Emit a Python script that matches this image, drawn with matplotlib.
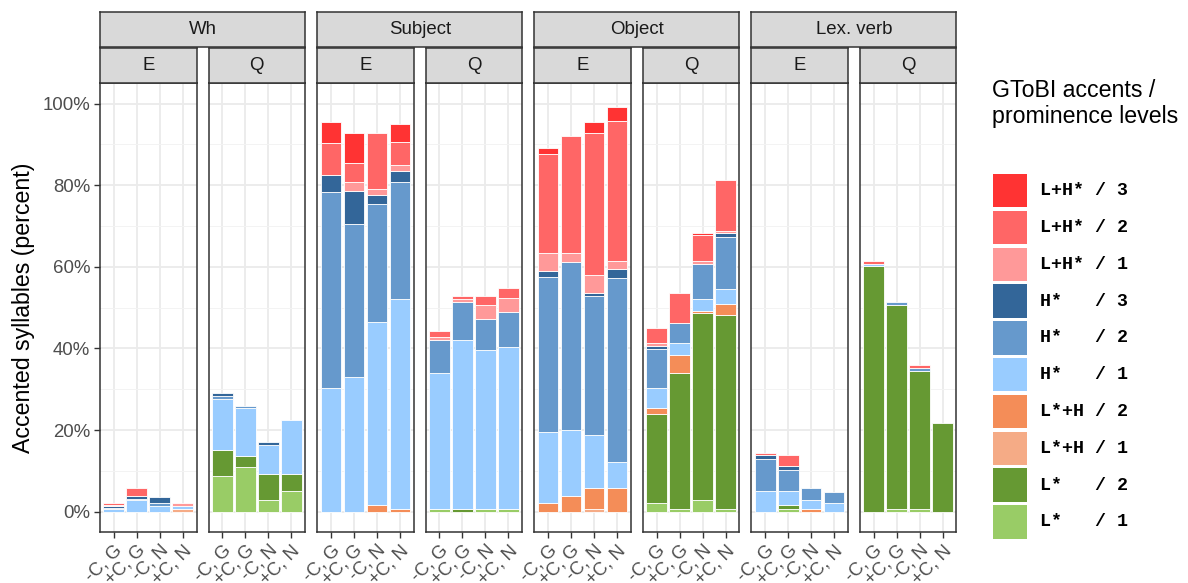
import numpy as np
import matplotlib
matplotlib.use("Agg")
import matplotlib.pyplot as plt
from matplotlib.patches import Rectangle

plt.rcParams['font.family'] = ['Liberation Sans', 'DejaVu Sans']

# facets
groups = ['Wh', 'Subject', 'Object', 'Lex. verb']
sentence_types = ['E', 'Q']
conditions = ['-C, G', '+C, G', '-C, N', '+C, N']

# accent categories, bottom of stack first
cat_labels = ['L*   / 1', 'L*   / 2', 'L*+H / 1', 'L*+H / 2', 'H*   / 1',
              'H*   / 2', 'H*   / 3', 'L+H* / 1', 'L+H* / 2', 'L+H* / 3']
cat_colors = ['#99CC66', '#669933', '#F5AB86', '#F48D58', '#99CCFF',
              '#6699CC', '#336699', '#FF9999', '#FF6666', '#FF3333']

# percentages per panel (Wh E, Wh Q, Subj E, Subj Q, Obj E, Obj Q, Lex E, Lex Q)
l_star_1 = [[0, 0, 0, 0], [8.7, 10.9, 2.8, 5.1], [0, 0, 0, 0], [0.7, 0, 0.7, 0.7],
            [0, 0, 0, 0], [2.2, 0.7, 2.8, 0.7], [0, 0.7, 0, 0], [0, 0.7, 0.7, 0]]
l_star_2 = [[0, 0, 0, 0], [6.5, 2.7, 6.4, 4.2], [0, 0, 0, 0], [0, 0.7, 0, 0],
            [0, 0, 0, 0], [21.7, 33.4, 45.8, 47.4], [0, 0.8, 0, 0], [60.1, 50.0, 33.7, 21.6]]
l_star_h_1 = [[0, 0, 0, 0.7], [0, 0, 0, 0], [0, 0, 0, 0], [0, 0, 0, 0],
              [0, 0, 0.7, 0], [0, 0, 0, 0], [0, 0, 0, 0], [0, 0, 0, 0]]
l_star_h_2 = [[0, 0, 0, 0], [0, 0, 0, 0], [0, 0, 1.6, 0.7], [0, 0, 0, 0],
              [2.2, 3.8, 5.1, 5.8], [1.4, 4.3, 0.7, 2.9], [0, 0, 0.7, 0], [0, 0, 0, 0]]
h_star_1 = [[0.6, 2.9, 1.4, 0.7], [12.4, 11.8, 7.1, 13.1], [30.2, 33.1, 44.8, 51.4],
            [33.4, 41.4, 38.8, 39.7], [17.3, 16.2, 13.1, 6.3], [5.1, 2.9, 2.8, 3.6],
            [5.0, 3.6, 2.2, 2.1], [0.7, 0, 0, 0]]
h_star_2 = [[0.4, 0.3, 0.8, 0], [0.7, 0.6, 0, 0], [48.2, 37.5, 29.0, 28.6],
            [7.9, 9.4, 7.8, 8.6], [38.1, 41.1, 34.0, 45.1], [9.5, 5.0, 8.6, 12.8],
            [7.8, 5.2, 2.9, 2.8], [0, 0.7, 0.7, 0]]
h_star_3 = [[0.3, 0.6, 1.4, 0], [0.7, 0, 0.7, 0], [4.2, 8.1, 2.1, 2.9], [0, 0, 0, 0],
            [1.3, 0, 0.8, 2.2], [0.7, 0, 0, 0.8], [1.0, 0.8, 0, 0], [0, 0, 0, 0]]
lh_star_1 = [[0.3, 0, 0, 0.8], [0, 0, 0, 0], [0, 2.2, 1.5, 1.3], [0.7, 0.7, 3.4, 3.4],
             [4.4, 2.4, 4.3, 2.1], [0.7, 0, 0.7, 0.7], [0, 0, 0, 0], [0, 0, 0, 0]]
lh_star_2 = [[0.6, 2.1, 0, 0], [0, 0, 0, 0], [7.8, 4.5, 13.9, 5.7], [1.5, 0.6, 2.1, 2.3],
             [24.4, 28.5, 34.7, 34.3], [3.6, 7.3, 6.3, 12.4], [0.5, 2.8, 0, 0], [0.7, 0, 0.8, 0]]
lh_star_3 = [[0, 0, 0, 0], [0, 0, 0, 0], [5.1, 7.3, 0, 4.4], [0, 0, 0, 0],
             [1.5, 0, 2.9, 3.5], [0, 0, 0.7, 0], [0, 0, 0, 0], [0, 0, 0, 0]]

series = [l_star_1, l_star_2, l_star_h_1, l_star_h_2, h_star_1,
          h_star_2, h_star_3, lh_star_1, lh_star_2, lh_star_3]

W, H = 1188, 583
fig = plt.figure(figsize=(W / 100, H / 100), dpi=100)


def box(x0, y0, x1, y1):
    # pixel box -> figure coords
    return [x0 / W, 1 - y1 / H, (x1 - x0) / W, (y1 - y0) / H]


grid_major = '#EBEBEB'
border = '#333333'
strip_fc = '#D9D9D9'
txt_col = '#4D4D4D'
fs = 13.4

step = 108.57
pw = 96.5
left0 = 100
top, bottom = 83.3, 532
x = np.arange(1, 5)

for p in range(8):
    x0 = left0 + p * step
    ax = fig.add_axes(box(x0, top, x0 + pw, bottom))
    ax.set_xlim(0.4, 4.6)
    ax.set_ylim(-5, 105)
    ax.set_yticks(np.arange(0, 101, 20))
    ax.set_yticks(np.arange(10, 100, 20), minor=True)
    ax.grid(True, which='major', color=grid_major, lw=1.3, zorder=0)
    ax.grid(True, which='minor', axis='y', color='#F3F3F3', lw=0.7, zorder=0)
    ax.set_axisbelow(True)
    base = np.zeros(4)
    for vals, col in zip(series, cat_colors):
        v = np.array(vals[p], dtype=float)
        hgt = np.where(v > 0, v, np.nan)
        ax.bar(x, hgt, width=0.9, bottom=base, color=col, edgecolor='white',
               linewidth=0.6, zorder=2)
        base = base + v
    for s in ax.spines.values():
        s.set_color(border)
        s.set_linewidth(1.1)
    ax.set_xticks(x)
    ax.set_xticklabels(conditions, rotation=45, ha='right', va='top',
                       rotation_mode='anchor', fontsize=fs, color=txt_col)
    ax.tick_params(axis='x', length=4, width=1, color=border, pad=3)
    if p == 0:
        ax.set_yticklabels([f'{v}%' for v in range(0, 101, 20)], fontsize=fs,
                           color=txt_col)
        ax.tick_params(axis='y', which='major', length=4, width=1, color=border, pad=3)
        ax.tick_params(axis='y', which='minor', length=0)
    else:
        ax.tick_params(axis='y', which='both', length=0, labelleft=False)

    # inner strip
    sax = fig.add_axes(box(x0, 48.3, x0 + pw, 83.3))
    sax.set_facecolor(strip_fc)
    sax.set_xticks([])
    sax.set_yticks([])
    for s in sax.spines.values():
        s.set_color(border)
        s.set_linewidth(1.1)
    sax.text(0.5, 0.5, sentence_types[p % 2], ha='center', va='center',
             fontsize=fs, color='#1A1A1A', transform=sax.transAxes)

# outer strips
for g, name in enumerate(groups):
    x0 = left0 + 2 * g * step
    oax = fig.add_axes(box(x0, 12, x0 + step + pw, 46.7))
    oax.set_facecolor(strip_fc)
    oax.set_xticks([])
    oax.set_yticks([])
    for s in oax.spines.values():
        s.set_color(border)
        s.set_linewidth(1.1)
    oax.text(0.5, 0.5, name, ha='center', va='center', fontsize=fs,
             color='#1A1A1A', transform=oax.transAxes)

fig.text(24 / W, 1 - 308 / H, 'Accented syllables (percent)', rotation=90,
         ha='center', va='center', fontsize=16.7, color='black')

# legend
fig.text(992 / W, 1 - 79 / H, 'GToBI accents /\nprominence levels', ha='left',
         va='top', fontsize=16.7, linespacing=1.15, color='black')
key_top = 174
key_step = 36.8
key_h = 33.3
for i in range(10):
    idx = 9 - i
    y0 = key_top + i * key_step
    fig.patches.append(Rectangle((993 / W, 1 - (y0 + key_h) / H), 33.5 / W, key_h / H,
                                 transform=fig.transFigure, facecolor=cat_colors[idx],
                                 edgecolor='none'))
    fig.text(1040 / W, 1 - (y0 + key_h / 2) / H, cat_labels[idx], ha='left',
             va='center', fontsize=13.2, family=['Liberation Mono', 'DejaVu Sans Mono'],
             weight='bold', color='black')

fig.savefig('out.png', dpi=100)
